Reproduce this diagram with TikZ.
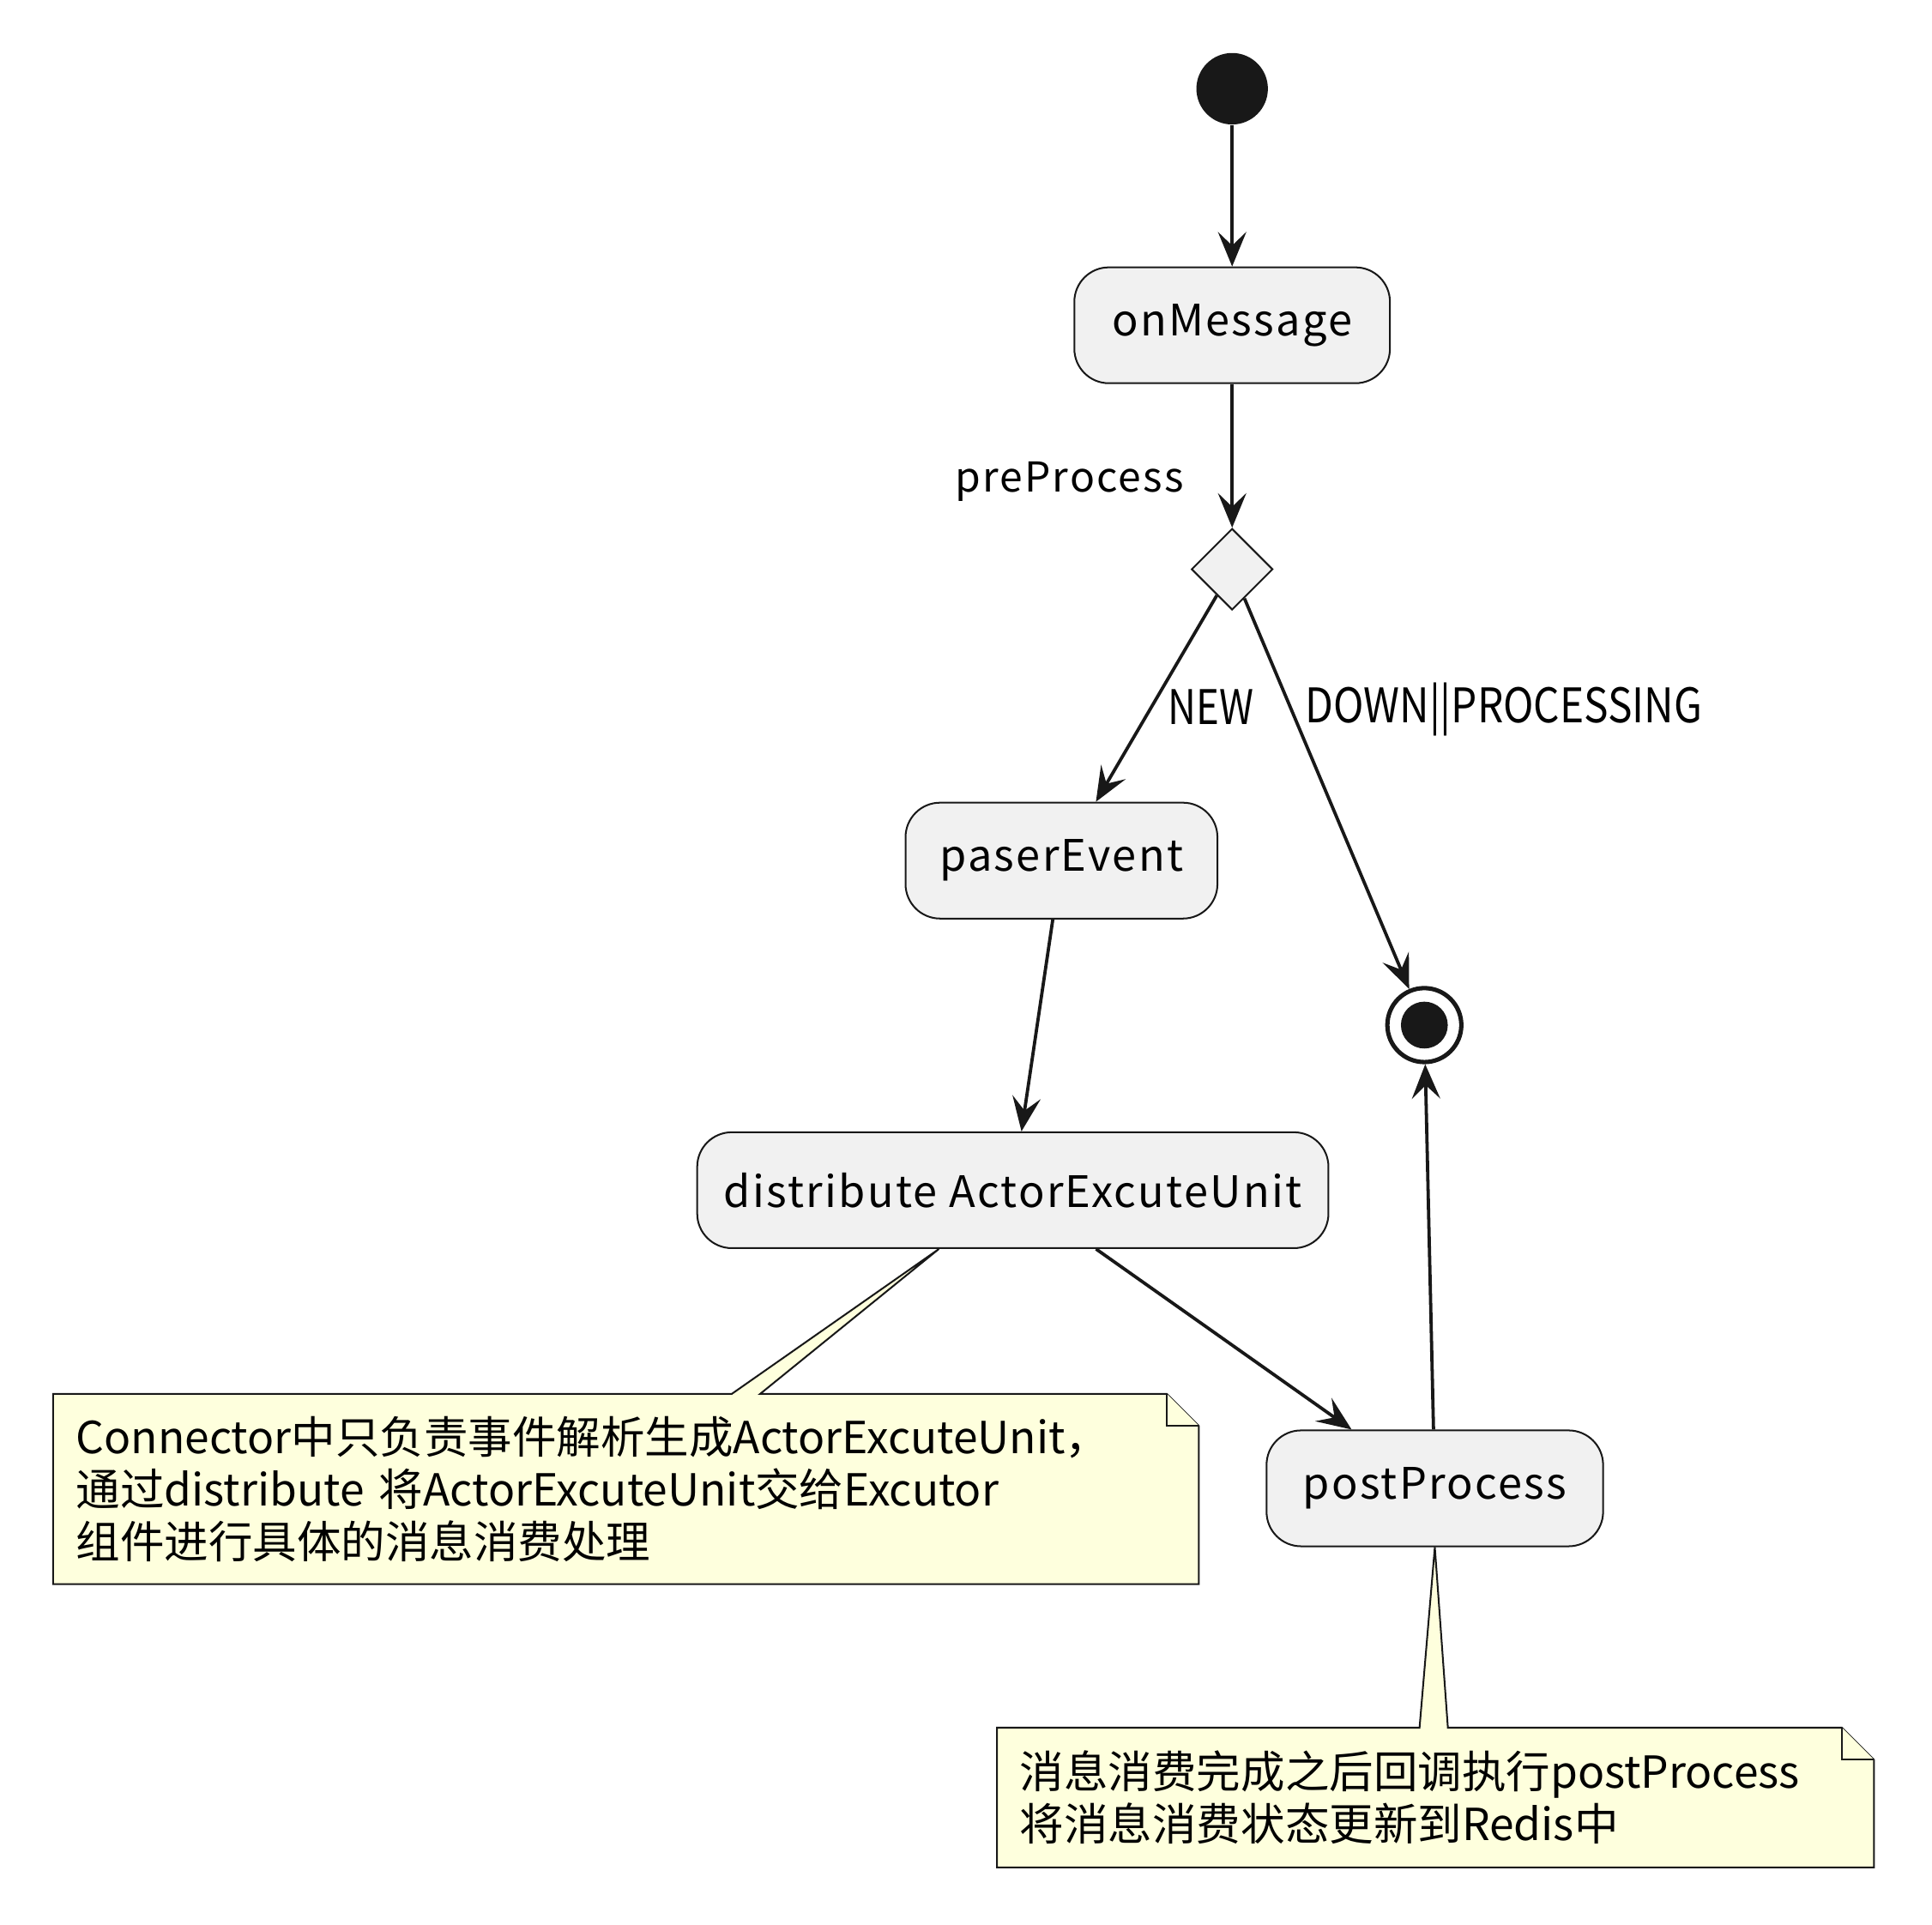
\documentclass[tikz,border=0pt]{standalone}
\usepackage{fontspec}
\usepackage{graphicx}
\setmainfont{Noto Sans CJK SC}
\newfontfamily\actfont[LetterSpace=4.5]{Noto Sans CJK SC}
\usetikzlibrary{arrows.meta,calc,shapes.geometric,backgrounds}
\definecolor{UmlLine}{RGB}{24,24,24}
\definecolor{ActFill}{RGB}{241,241,241}
\definecolor{NoteFill}{RGB}{254,255,221}
\tikzset{
  flow/.style={-{Stealth[length=2.8mm,width=2.3mm,inset=1.1mm]},line width=0.75pt,draw=UmlLine},
  actbox/.style={draw=UmlLine,fill=ActFill,line width=0.4pt,rounded corners=2.8mm,
    minimum height=0.94cm,inner sep=0pt,align=center,font=\fontsize{10pt}{12pt}\actfont},
  choice/.style={diamond,aspect=1,draw=UmlLine,fill=ActFill,line width=0.4pt,
    minimum size=0.66cm,inner sep=0pt},
  startdot/.style={circle,fill=UmlLine,minimum size=0.58cm,inner sep=0pt},
  endring/.style={circle,draw=UmlLine,fill=white,line width=1pt,minimum size=0.6cm,inner sep=0pt},
  enddot/.style={circle,fill=UmlLine,minimum size=0.38cm,inner sep=0pt},
  steplabel/.style={inner sep=0pt,font=\fontsize{9.5pt}{11pt}\actfont},
  guardlabel/.style={inner sep=0pt,font=\fontsize{11pt}{13pt}\selectfont},
  notetext/.style={inner xsep=1.8mm,inner ysep=0pt,align=left,
    font=\fontsize{10.2pt}{12.1pt}\selectfont},
  noteline/.style={draw=UmlLine,fill=NoteFill,line width=0.4pt}
}
\begin{document}
\begin{tikzpicture}[x=0.01cm,y=-0.01cm]
  \useasboundingbox (0,0) rectangle (1568,1562);
  % activity nodes
  \node[startdot] (start) at (1000,72) {};
  \node[actbox,minimum width=2.56cm] (onmsg) at (1000,264) {onMessage};
  \node[choice] (branch) at (1000,462) {};
  \node[actbox,minimum width=2.53cm] (paser) at (861.5,698.5) {paserEvent};
  \node[endring] (stop) at (1156,832) {};
  \node[enddot] (stopdot) at (stop) {};
  \node[actbox,minimum width=5.12cm] (dist) at (822,966) {distribute\ ActorExcuteUnit};
  \node[actbox,minimum width=2.73cm] (post) at (1164.5,1208) {postProcess};
  % notes
  \node[notetext,minimum width=9.28cm,minimum height=1.53cm,text width=8.92cm] (noteA) at (508,1208.5)
    {Connector中只负责事件解析生成ActorExcuteUnit，\\通过distribute 将ActorExcuteUnit交给Excutor\\组件进行具体的消息消费处理};
  \node[notetext,minimum width=7.1cm,minimum height=1.12cm,text width=6.74cm] (noteB) at (1165,1459)
    {消息消费完成之后回调执行postProcess\\将消息消费状态更新到Redis中};
  \coordinate (tipA) at ($(dist.south)+(-60,0)$);
  \coordinate (tipB) at (post.south);
  \begin{scope}[on background layer]
    \draw[noteline] (noteA.north west) -- ++(551,0) -- (tipA) -- ($(noteA.north west)+(574,0)$)
      -- ([xshift=-2.6mm]noteA.north east) -- ([yshift=-2.6mm]noteA.north east)
      -- (noteA.south east) -- (noteA.south west) -- cycle;
    \draw[noteline] ([xshift=-2.6mm]noteA.north east) |- ([yshift=-2.6mm]noteA.north east);
    \draw[noteline] (noteB.north west) -- ++(343,0) -- (tipB) -- ($(noteB.north west)+(366,0)$)
      -- ([xshift=-2.6mm]noteB.north east) -- ([yshift=-2.6mm]noteB.north east)
      -- (noteB.south east) -- (noteB.south west) -- cycle;
    \draw[noteline] ([xshift=-2.6mm]noteB.north east) |- ([yshift=-2.6mm]noteB.north east);
  \end{scope}
  % connectors
  \draw[flow] (start) -- (onmsg);
  \draw[flow] (onmsg) -- (branch) node[steplabel,pos=0.68,anchor=east,xshift=-3.8mm] {preProcess};
  \draw[flow] (branch) -- (paser) node[guardlabel,pos=0.54,anchor=west,xshift=1.2mm] {\scalebox{0.82}[1]{NEW}};
  \draw[flow] (branch) -- (stop) node[guardlabel,pos=0.285,anchor=west,xshift=1mm] {\scalebox{0.86}[1]{DOWN||PROCESSING}};
  \draw[flow] (paser) -- (dist);
  \draw[flow] (dist) -- (post);
  \draw[flow] (post) -- (stop);
\end{tikzpicture}
\end{document}
